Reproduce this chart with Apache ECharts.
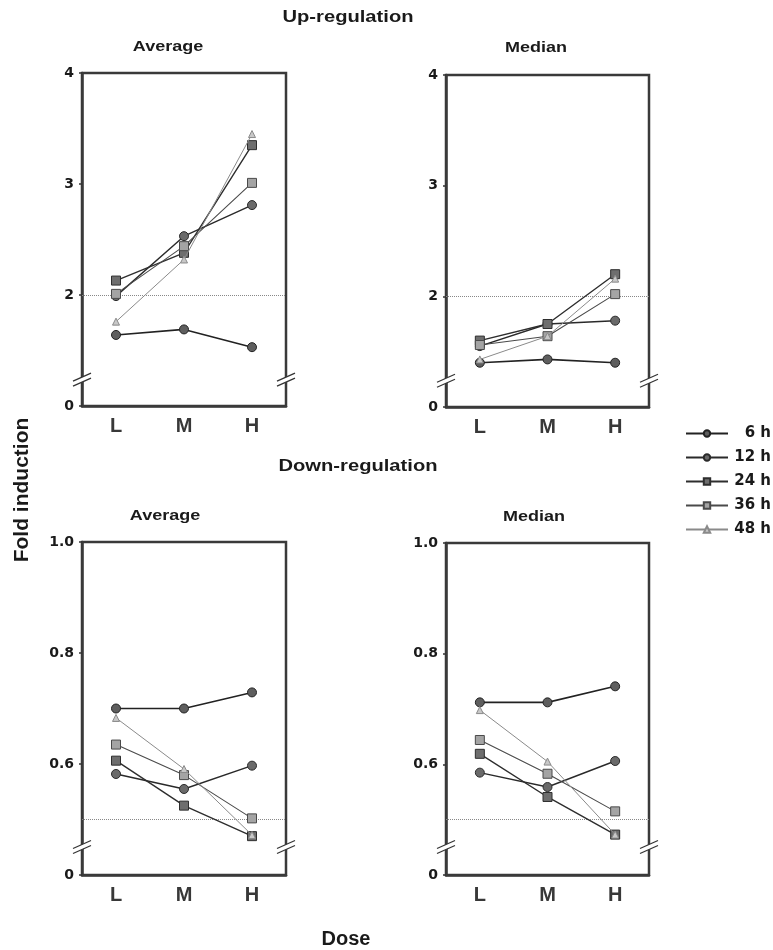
<!DOCTYPE html>
<html lang="en">
<head>
    <meta charset="UTF-8">
    <title>Fold induction</title>
    <script src="https://cdn.jsdelivr.net/npm/echarts@6.0.0/dist/echarts.min.js"></script>
</head>
<body style="margin:0;background:#fff;">
    <div id="chart" style="width: 773px; height: 950px;"></div>
    <script>
        const doses = ['L', 'M', 'H'];
        const hours = ['6 h', '12 h', '24 h', '36 h', '48 h'];
        // one row per time point, values at L, M, H
        const upAverage = [
            [1.64, 1.69, 1.53],
            [1.99, 2.53, 2.81],
            [2.13, 2.38, 3.35],
            [2.01, 2.44, 3.01],
            [1.76, 2.32, 3.45]
        ];
        const upMedian = [
            [1.40, 1.43, 1.40],
            [1.55, 1.75, 1.78],
            [1.60, 1.75, 2.20],
            [1.56, 1.64, 2.02],
            [1.43, 1.64, 2.16]
        ];
        const downAverage = [
            [0.700, 0.700, 0.729],
            [0.582, 0.555, 0.597],
            [0.606, 0.525, 0.470],
            [0.635, 0.580, 0.502],
            [0.683, 0.591, 0.472]
        ];
        const downMedian = [
            [0.712, 0.712, 0.741],
            [0.585, 0.559, 0.606],
            [0.619, 0.541, 0.473],
            [0.644, 0.583, 0.515],
            [0.698, 0.605, 0.473]
        ];

        const styles = [
            {symbol: 'circle', size: 9, fill: '#5e5e5e', line: '#222', width: 1.6},
            {symbol: 'circle', size: 9, fill: '#6a6a6a', line: '#2a2a2a', width: 1.4},
            {symbol: 'rect', size: 9, fill: '#6e6e6e', line: '#2e2e2e', width: 1.4},
            {symbol: 'rect', size: 9, fill: '#a4a4a4', line: '#4a4a4a', width: 1.1},
            {symbol: 'triangle', size: 7, fill: '#c8c8c8', line: '#8a8a8a', width: 1}
        ];

        const panels = [
            {data: upAverage, grid: {left: 82, top: 73, width: 204, height: 333}, min: 1, max: 4, interval: 1, ref: 2, brk: 1.26},
            {data: upMedian, grid: {left: 446, top: 75, width: 203, height: 332}, min: 1, max: 4, interval: 1, ref: 2, brk: 1.26},
            {data: downAverage, grid: {left: 82, top: 542, width: 204, height: 333}, min: 0.4, max: 1.0, interval: 0.2, ref: 0.5, brk: 0.455},
            {data: downMedian, grid: {left: 446, top: 543, width: 203, height: 332}, min: 0.4, max: 1.0, interval: 0.2, ref: 0.5, brk: 0.455}
        ];

        const font = 'Liberation Sans, Arial, sans-serif';
        const wideFont = 'DejaVu Sans, sans-serif';
        const myChart = echarts.init(document.getElementById('chart'));

        let grids = [], xAxes = [], yAxes = [], series = [];
        panels.forEach((p, i) => {
            grids.push(Object.assign({show: true, borderColor: '#3a3a3a', borderWidth: 2.5}, p.grid));
            xAxes.push({
                type: 'category', gridIndex: i, data: doses, boundaryGap: true,
                axisLine: {lineStyle: {color: '#3a3a3a', width: 2.5}},
                axisTick: {alignWithLabel: true, length: 3, lineStyle: {color: '#333', width: 2}},
                axisLabel: {margin: 10, color: '#383838', fontSize: 20, fontWeight: 'bold', fontFamily: font}
            });
            yAxes.push({
                type: 'value', gridIndex: i, min: p.min, max: p.max, interval: p.interval,
                splitLine: {show: false},
                axisLine: {show: true, lineStyle: {color: '#3a3a3a', width: 2.5}},
                axisTick: {show: true, length: 3, lineStyle: {color: '#333', width: 1.5}},
                axisLabel: {
                    margin: 8, color: '#1a1a1a', fontSize: 14, fontWeight: 'bold', fontFamily: wideFont,
                    formatter: v => Math.abs(v - p.min) < 1e-6 ? '0' : (p.interval < 1 ? v.toFixed(1) : String(v))
                }
            });
            p.data.forEach((vals, k) => {
                const s = styles[k];
                const item = {
                    name: hours[k], type: 'line', xAxisIndex: i, yAxisIndex: i,
                    data: vals, symbol: s.symbol, symbolSize: s.size, silent: true,
                    lineStyle: {color: s.line, width: s.width},
                    itemStyle: {color: s.fill, borderColor: s.line, borderWidth: 1, opacity: 1},
                    z: 3 + k
                };
                if (k === 0) {
                    item.markLine = {
                        silent: true, symbol: 'none', label: {show: false},
                        lineStyle: {color: '#888', type: 'dotted', width: 1},
                        data: [{yAxis: p.ref}]
                    };
                }
                series.push(item);
            });
        });

        // the scanned titles are wider than the font, so stretch them a little
        const titleText = (text, x, y, size, sx) => ({
            type: 'text', x: x, y: y, scaleX: sx,
            style: {text: text, fill: '#1a1a1a', font: 'bold ' + size + 'px ' + font, textAlign: 'center', textVerticalAlign: 'middle'}
        });

        let option = {
            animation: false,
            grid: grids,
            xAxis: xAxes,
            yAxis: yAxes,
            legend: {
                orient: 'vertical', left: 680, top: 421, itemWidth: 42, itemHeight: 8, itemGap: 9,
                selectedMode: false, data: hours,
                formatter: name => '{a|' + name + '}',
                textStyle: {
                    fontSize: 15, fontWeight: 'bold', color: '#1a1a1a', fontFamily: wideFont, lineHeight: 14,
                    rich: {a: {width: 38, align: 'right', fontSize: 15, fontWeight: 'bold', fontFamily: wideFont, lineHeight: 14}}
                }
            },
            series: series,
            graphic: [
                titleText('Up-regulation', 348, 18, 16, 1.26),
                titleText('Down-regulation', 358, 467, 16, 1.26),
                titleText('Average', 168, 47, 15, 1.2),
                titleText('Median', 536, 48, 15, 1.2),
                titleText('Average', 165, 516, 15, 1.2),
                titleText('Median', 534, 517, 15, 1.2),
                titleText('Dose', 346, 939, 20, 1),
                {
                    type: 'text', x: 22, y: 490, rotation: Math.PI / 2,
                    style: {text: 'Fold induction', fill: '#1a1a1a', font: 'bold 21px ' + font, textAlign: 'center', textVerticalAlign: 'middle'}
                }
            ]
        };
        myChart.setOption(option);

        // axis break marks on both sides of each panel
        let breaks = [];
        panels.forEach((p, i) => {
            const y = myChart.convertToPixel({yAxisIndex: i}, p.brk);
            [p.grid.left, p.grid.left + p.grid.width].forEach(x => {
                breaks.push({
                    type: 'polygon', z: 100,
                    shape: {points: [[x - 4, y + 2], [x + 4, y - 2], [x + 4, y + 3], [x - 4, y + 7]]},
                    style: {fill: '#fff'}
                });
                [0, 5].forEach(d => {
                    breaks.push({
                        type: 'line', z: 101,
                        shape: {x1: x - 9, y1: y + 4 + d, x2: x + 9, y2: y - 4 + d},
                        style: {stroke: '#333', lineWidth: 1.2}
                    });
                });
            });
        });
        myChart.setOption({graphic: option.graphic.concat(breaks)});
    </script>
</body>
</html>
